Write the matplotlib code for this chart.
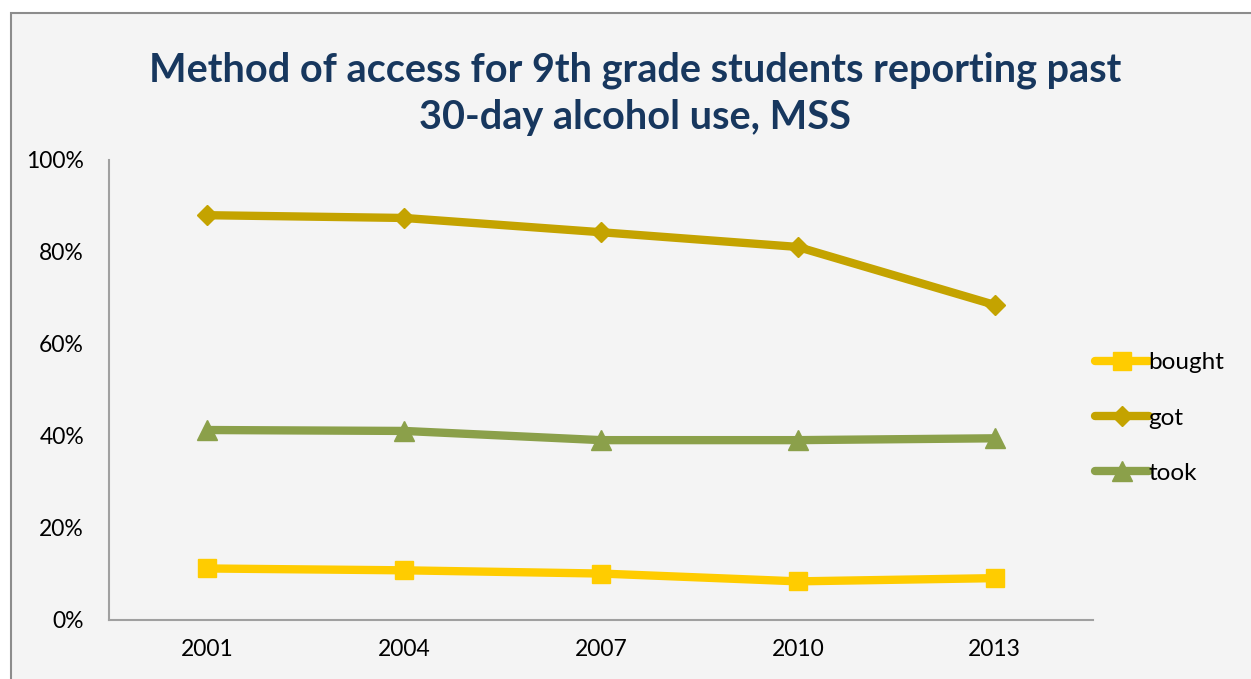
import matplotlib
matplotlib.use("Agg")
import matplotlib.pyplot as plt
from matplotlib.patches import Rectangle
from matplotlib.ticker import FuncFormatter

years = ["2001", "2004", "2007", "2010", "2013"]
bought = [11.2, 10.8, 10.1, 8.4, 9.1]
got = [88.0, 87.4, 84.3, 81.1, 68.5]
took = [41.3, 41.1, 39.1, 39.1, 39.5]
series_names = ["bought", "got", "took"]
y_ticks = [0, 20, 40, 60, 80, 100]

plt.rcParams['font.family'] = ['Lato', 'DejaVu Sans']

fig = plt.figure(figsize=(12.51, 6.79), dpi=100, facecolor="white")
bg = Rectangle((11 / 1251, -0.05), 1.1, 1 - 13 / 679 + 0.05, transform=fig.transFigure,
               facecolor="#f4f4f4", edgecolor="#8c8c8c", linewidth=1.5, zorder=-10)
fig.patches.append(bg)

ax = fig.add_axes([109 / 1251, 1 - 620 / 679, (1093 - 109) / 1251, (620 - 160) / 679])
ax.set_facecolor("#f4f4f4")

x = list(range(len(years)))
ax.plot(x, bought, color="#FFCC00", linewidth=6, marker="s", markersize=13,
        label=series_names[0], solid_capstyle="round")
ax.plot(x, got, color="#C4A300", linewidth=6, marker="D", markersize=10,
        label=series_names[1], solid_capstyle="round")
ax.plot(x, took, color="#8BA04A", linewidth=6, marker="^", markersize=14,
        label=series_names[2], solid_capstyle="round")

ax.set_xlim(-0.5, 4.5)
ax.set_ylim(0, 100)
ax.set_xticks(x)
ax.set_xticklabels(years)
ax.set_yticks(y_ticks)
ax.yaxis.set_major_formatter(FuncFormatter(lambda v, p: f"{int(v)}%"))
ax.tick_params(axis="both", length=0, labelsize=16.5, colors="black")
ax.tick_params(axis="y", pad=18)
ax.tick_params(axis="x", pad=14)
for s in ["top", "right"]:
    ax.spines[s].set_visible(False)
for s in ["left", "bottom"]:
    ax.spines[s].set_color("#a0a0a0")
    ax.spines[s].set_linewidth(1.5)

leg = ax.legend(loc="center left", bbox_to_anchor=(1083 / 1251, 1 - 418 / 679),
                bbox_transform=fig.transFigure, frameon=False, fontsize=17.5,
                handlelength=2.2, handletextpad=0.0, labelspacing=1.4, borderpad=0)

fig.text(635 / 1251, 1 - 94 / 679, "Method of access for 9th grade students reporting past\n30-day alcohol use, MSS",
         ha="center", va="center", fontsize=28.5, fontweight="bold", color="#17375E",
         linespacing=1.32)

fig.savefig("out.png", dpi=100, facecolor="white")
